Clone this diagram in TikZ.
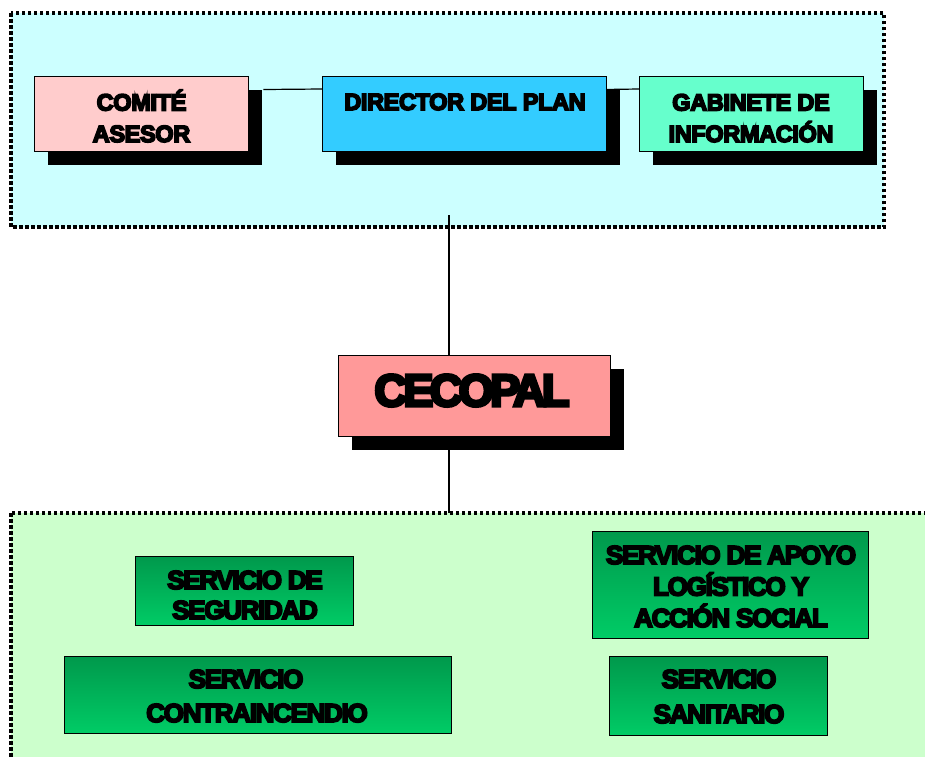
\documentclass[tikz,border=0pt]{standalone}
\usepackage{fontspec}
\setmainfont{Liberation Sans}
\newfontfamily\heavy{Liberation Sans}[BoldFeatures={FakeBold=7,LetterSpace=-1.5}]
\newfontfamily\heavywide{Liberation Sans}[BoldFeatures={FakeBold=7,LetterSpace=-5}]
\newfontfamily\heavybig{Liberation Sans}[BoldFeatures={FakeBold=7,LetterSpace=-8}]
\usetikzlibrary{shadows}
\definecolor{topbg}{RGB}{204,255,255}
\definecolor{botbg}{RGB}{204,255,204}
\definecolor{pinkc}{RGB}{255,204,204}
\definecolor{bluec}{RGB}{51,204,255}
\definecolor{mintc}{RGB}{102,255,204}
\definecolor{redc}{RGB}{255,153,153}
\definecolor{gtop}{RGB}{0,153,76}
\definecolor{gbot}{RGB}{0,204,102}
\tikzset{
  region/.style={draw=black, line width=3.2pt, dash pattern=on 3.5pt off 2.5pt},
  box/.style={draw=black, line width=1.4pt, inner sep=0pt, anchor=north west},
  shadowbox/.style={box, drop shadow={shadow xshift=13.5pt, shadow yshift=-13pt, fill=black, opacity=1}},
  greenbox/.style={box, top color=gtop, bottom color=gbot},
  lbl/.style={inner sep=0pt, align=center, anchor=base, font=\heavy\bfseries\fontsize{23.5}{31.5}\selectfont},
  glbl/.style={inner sep=0pt, align=center, anchor=base, font=\heavywide\bfseries\fontsize{26}{31.5}\selectfont},
  conn/.style={draw=black, line width=1.2pt}
}
\begin{document}
\begin{tikzpicture}[x=1pt, y=-1pt]
\useasboundingbox (0,0) rectangle (925,756);
\clip (0,0) rectangle (925,756);
% regions
\path[region, fill=topbg] (11,13) rectangle (884,227);
\path[region, fill=botbg] (11,513) rectangle (940,780);
% connector coordinate inside the top region
\coordinate (topconn) at (449,215);
% boxes with shadows
\node[shadowbox, fill=pinkc, minimum width=214pt, minimum height=75pt] (comite) at (34,76) {};
\node[shadowbox, fill=mintc, minimum width=224pt, minimum height=75pt] (gabinete) at (639,76) {};
\node[shadowbox, fill=redc, minimum width=272pt, minimum height=81pt] (cecopal) at (338,355) {};
% connectors
\draw[conn] (comite.east |- 0,89.5) ++(14,0) -- (322,89);
\draw[conn] (603,89.5) -- (gabinete.west |- 0,89);
\draw[conn] (topconn) -- (cecopal.north -| topconn);
\draw[conn] (cecopal.south -| topconn) -- (449,513) coordinate (botconn);
\node[shadowbox, fill=bluec, minimum width=284pt, minimum height=75pt] (director) at (322,76) {};
% texts
\node[lbl] (tcomite) at (141.5,142) {COMITÉ\\ASESOR};
\node[lbl] (tdirector) at (465,110) {DIRECTOR DEL PLAN};
\node[lbl] (tgabinete) at (751,142) {GABINETE DE\\INFORMACIÓN};
\node[inner sep=0pt, anchor=base, font=\heavybig\bfseries\fontsize{45}{50}\selectfont] (tcecopal) at (472,406) {CECOPAL};
% service boxes
\node[greenbox, minimum width=218pt, minimum height=69pt] (seguridad) at (135,556) {};
\node[greenbox, minimum width=387pt, minimum height=77pt] (contra) at (64,656) {};
\node[greenbox, minimum width=276pt, minimum height=107pt] (apoyo) at (592,531) {};
\node[greenbox, minimum width=218pt, minimum height=79pt] (sanitario) at (609,656) {};
\node[glbl, font=\heavywide\bfseries\fontsize{26}{30}\selectfont] (tseguridad) at (245,619) {SERVICIO DE\\SEGURIDAD};
\node[glbl, font=\heavywide\bfseries\fontsize{26}{34}\selectfont] (tcontra) at (257,722) {SERVICIO\hspace*{22pt}\\CONTRAINCENDIO};
\node[glbl] (tapoyo) at (731,627) {SERVICIO DE APOYO\\LOGÍSTICO Y\\ACCIÓN SOCIAL};
\node[glbl, font=\heavywide\bfseries\fontsize{26}{35}\selectfont] (tsanitario) at (719,723) {SERVICIO\\SANITARIO};
\end{tikzpicture}
\end{document}
